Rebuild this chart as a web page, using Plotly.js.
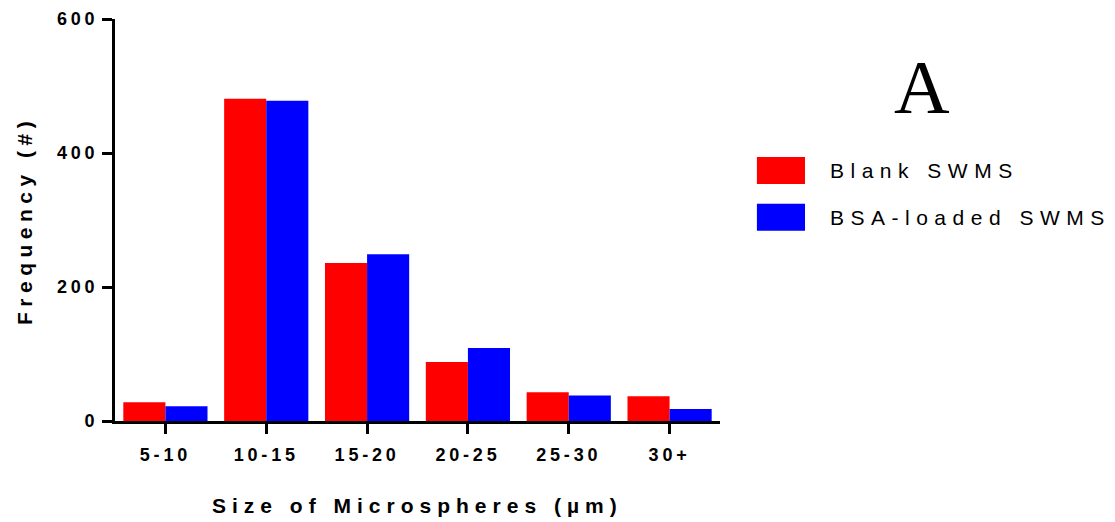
<!DOCTYPE html>
<html><head><meta charset="utf-8">
<script src="https://cdn.plot.ly/plotly-3.0.1.min.js"></script>
<style>
body{margin:0;padding:0;background:#fff;}
.xtick text,.ytick text{letter-spacing:3.8px !important;}
</style>
</head><body>
<div id="chart" style="width:1115px;height:522px;"></div>
<script>
const categories = ["5-10","10-15","15-20","20-25","25-30","30+"];
const blankSWMS = [28, 481, 236, 88, 43, 37];
const bsaSWMS = [22, 478, 249, 109, 38, 18];
const seriesNames = ["Blank SWMS","BSA-loaded SWMS"];
const seriesColors = ["#FF0000","#0000FF"];
const yTicks = [0,200,400,600];
const xTitle = "Size of Microspheres (µm)";
const yTitle = "Frequency (#)";
const panelLabel = "A";

const traces = [blankSWMS, bsaSWMS].map((v,i)=>({
  type:'bar', x:categories, y:v, name:seriesNames[i],
  marker:{color:seriesColors[i], line:{width:0}}, showlegend:false
}));

const baseFont = {family:'"Liberation Sans", Arial, sans-serif', color:'#000'};
const shapes = [];
const annotations = [];
seriesNames.forEach((n,i)=>{
  const yc = 0.623 - i*0.116;
  shapes.push({type:'rect', xref:'paper', yref:'paper', x0:1.061, x1:1.1405, y0:yc-0.0336, y1:yc+0.0336,
    fillcolor:seriesColors[i], line:{width:0}});
  annotations.push({xref:'paper', yref:'paper', x:1.1785, y:yc, xanchor:'left', yanchor:'middle',
    text:'<span style="letter-spacing:6.5px">'+n+'</span>', showarrow:false, font:Object.assign({}, baseFont, {size:21})});
});
annotations.push({xref:'paper', yref:'paper', x:1.3335, y:0.830, xanchor:'center', yanchor:'middle', text:panelLabel,
  showarrow:false, font:{family:'"Liberation Serif","DejaVu Serif",serif', size:77, color:'#000'}});
annotations.push({xref:'paper', yref:'paper', x:0.5, y:-0.209, xanchor:'center', yanchor:'middle',
  text:'<span style="letter-spacing:6px">'+xTitle+'</span>', showarrow:false,
  font:Object.assign({}, baseFont, {size:21, weight:'bold'})});
annotations.push({xref:'paper', yref:'paper', x:-0.1504, y:0.4975, xanchor:'center', yanchor:'middle', textangle:-90,
  text:'<span style="letter-spacing:5.5px">'+yTitle+'</span>', showarrow:false,
  font:Object.assign({}, baseFont, {size:21, weight:'bold'})});

const layout = {
  width:1115, height:522,
  margin:{l:115, r:395, t:19, b:101},
  paper_bgcolor:'#fff', plot_bgcolor:'#fff',
  barmode:'group', bargap:0.165, bargroupgap:0,
  xaxis:{
    type:'category', range:[-0.5,5.5], showline:true, linecolor:'#000', linewidth:3,
    ticks:'outside', ticklen:10, tickwidth:3, tickcolor:'#000', showgrid:false, zeroline:false,
    tickfont:Object.assign({}, baseFont, {size:18, weight:'bold'}), ticklabelstandoff:5,
    automargin:false
  },
  yaxis:{
    range:[0,600], tickvals:yTicks, showline:true, linecolor:'#000', linewidth:3,
    ticks:'outside', ticklen:10, tickwidth:3, tickcolor:'#000', showgrid:false, zeroline:false,
    tickfont:Object.assign({}, baseFont, {size:18, weight:'bold'}),
    automargin:false
  },
  shapes:shapes, annotations:annotations, showlegend:false
};
Plotly.newPlot('chart', traces, layout, {displayModeBar:false, staticPlot:true});
</script>
</body></html>
